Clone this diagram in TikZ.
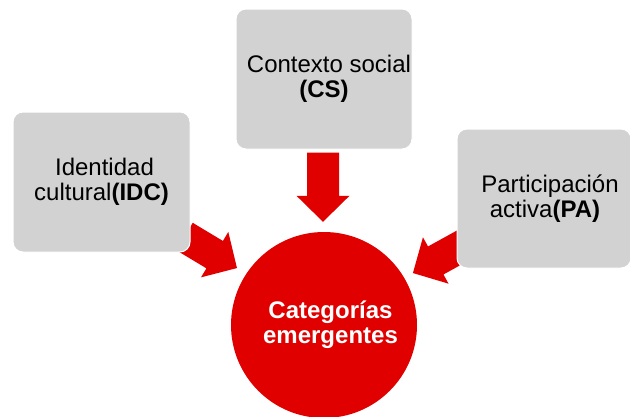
\documentclass[tikz,border=0pt]{standalone}
\usepackage{fontspec}
\setmainfont{Liberation Sans}
\usetikzlibrary{calc,backgrounds}
\definecolor{boxgray}{RGB}{210,210,210}
\definecolor{arrowred}{RGB}{224,0,0}
\newcommand\blockarrow[2]{%
  \fill[arrowred] let \p1=(#1), \p2=(#2),
    \n1={atan2(\y2-\y1,\x2-\x1)},
    \n2={veclen(\x2-\x1,\y2-\y1)-26} in
    ($(\p1)+(\n1-90:16)$) -- ($(\p1)+(\n1:\n2)+(\n1-90:16)$) --
    ($(\p1)+(\n1:\n2)+(\n1-90:26.5)$) -- (\p2) --
    ($(\p1)+(\n1:\n2)+(\n1+90:26.5)$) -- ($(\p1)+(\n1:\n2)+(\n1+90:16)$) --
    ($(\p1)+(\n1+90:16)$) -- cycle;}
\tikzset{
  catbox/.style={rectangle, rounded corners=10pt, fill=boxgray, draw=white,
    line width=1pt, inner sep=0pt, align=center,
    font=\fontsize{24}{25}\selectfont},
  catcircle/.style={circle, fill=arrowred, draw=none, minimum size=186pt,
    inner sep=0pt, align=center, text=white,
    font=\fontsize{24}{25}\selectfont\bfseries}
}
\begin{document}
\begin{tikzpicture}[x=1pt,y=1pt]
\useasboundingbox (0,0) rectangle (630,-416);
\node[catbox, minimum width=177pt, minimum height=140pt] (idc) at (101.5,-182)
  {\hspace*{6pt}Identidad\\cultural\textbf{(IDC)}};
\node[catbox, minimum width=176pt, minimum height=140pt] (cs) at (324,-79)
  {\hspace*{10pt}Contexto social\\\textbf{(CS)}};
\node[catbox, minimum width=174pt, minimum height=139pt] (pa) at (544,-198.5)
  {\hspace*{12pt}Participación\\\hspace*{2pt}activa\textbf{(PA)}};
\node[catcircle] (cat) at (324,-325)
  {\hspace*{13pt}Categorías\\\hspace*{13pt}emergentes};
\coordinate (csT) at ($(cs.south)+(-1,-3)$);
\coordinate (csH) at ($(cat.north)+(-1,10)$);
\coordinate (idcT) at ($(idc.south east)+(-6,16)$);
\coordinate (idcH) at ($(cat.center)+(146.8:104)$);
\coordinate (paT) at ($(pa.south west)+(10,25)$);
\coordinate (paH) at ($(cat.center)+(30.3:103)$);
\begin{scope}[on background layer]
  \blockarrow{csT}{csH}
  \blockarrow{idcT}{idcH}
  \blockarrow{paT}{paH}
\end{scope}
\end{tikzpicture}
\end{document}
